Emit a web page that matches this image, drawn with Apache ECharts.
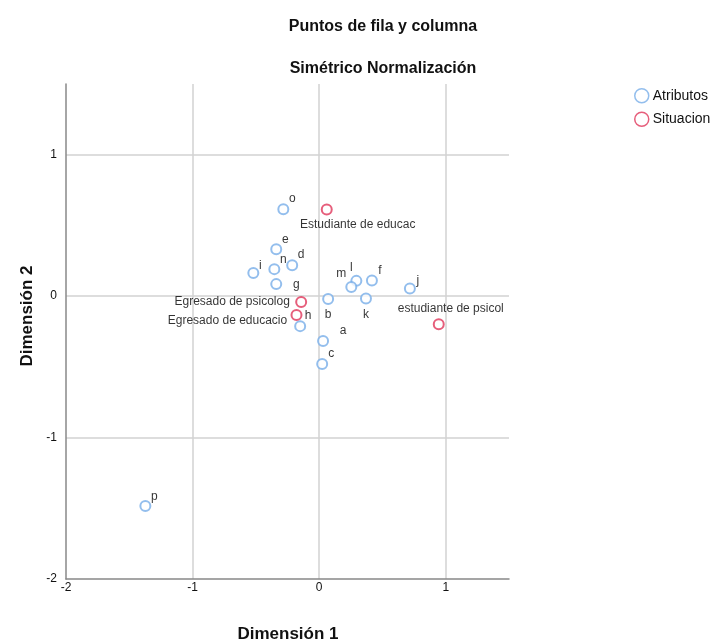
<!DOCTYPE html>
<html>
<head>
<meta charset="utf-8">
<script src="https://cdn.jsdelivr.net/npm/echarts@6/dist/echarts.min.js"></script>
<style>html,body{margin:0;padding:0;background:#fff}#c{width:717px;height:642px}</style>
</head>
<body>
<div id="c"></div>
<script>
// ---- data ----
const attrNames = ['a','b','c','d','e','f','g','h','i','j','k','l','m','n','o','p'];
const attrX = [0.031, 0.071, 0.024, -0.213, -0.339, 0.417, -0.339, -0.150, -0.520, 0.717, 0.370, 0.294, 0.254, -0.354, -0.283, -1.373];
const attrY = [-0.318, -0.021, -0.480, 0.219, 0.332, 0.111, 0.085, -0.212, 0.163, 0.054, -0.016, 0.108, 0.064, 0.191, 0.615, -1.484];

const sitNames = ['Estudiante de educac', 'Egresado de psicolog', 'Egresado de educacio', 'estudiante de psicol'];
const sitX = [0.060, -0.142, -0.179, 0.945];
const sitY = [0.613, -0.042, -0.134, -0.198];

const xTicks = [-2, -1, 0, 1];
const yTicks = [-2, -1, 0, 1];

// ---- styles (label offsets in px, relative to the marker centre) ----
const attrLabelOffset = {
  a:[20,-10], b:[0,16], c:[9,-10], d:[9,-10], e:[9,-10], f:[8,-10], g:[20,1], h:[8,-10],
  i:[7,-7], j:[8,-8], k:[0,16], l:[-5,-13], m:[-10,-13], n:[9,-9], o:[9,-10], p:[9,-9]
};
const sitLabelOffset = {
  'Estudiante de educac':[31,15], 'Egresado de psicolog':[-69,0],
  'Egresado de educacio':[-69,6], 'estudiante de psicol':[12,-15]
};
const BLUE = '#78aee8', RED = '#e0365a';
const FONT = '"Liberation Sans", Arial, sans-serif';

function build(names, xs, ys, offsets){
  return names.map((n,i)=>({
    name:n, value:[xs[i], ys[i]],
    label:{offset: offsets[n]}
  }));
}

const labelStyle = {show:true, position:'inside', formatter:'{b}', fontFamily:FONT, fontSize:12,
  color:'#000', textBorderWidth:0, textBorderColor:'transparent'};

const chart = echarts.init(document.getElementById('c'));
chart.setOption({
  animation:false,
  backgroundColor:'#fff',
  title:[
    {text:'Puntos de fila y columna', left:378, top:14, textAlign:'center',
     textStyle:{fontFamily:FONT, fontSize:16, fontWeight:'bold', color:'#111'}},
    {text:'Simétrico Normalización', left:378, top:56, textAlign:'center',
     textStyle:{fontFamily:FONT, fontSize:16, fontWeight:'bold', color:'#111'}}
  ],
  legend:{
    orient:'vertical', left:634, top:88, padding:0, itemWidth:14, itemHeight:14, itemGap:8,
    textStyle:{fontFamily:FONT, fontSize:14, color:'#111', padding:[0,0,0,-1]},
    data:[
      {name:'Atributos', icon:'circle', itemStyle:{color:'#fff', borderColor:BLUE, borderWidth:1.5}},
      {name:'Situacion', icon:'circle', itemStyle:{color:'#fff', borderColor:RED, borderWidth:1.5}}
    ]
  },
  grid:{left:66, right:208, top:84, bottom:63},
  xAxis:{
    type:'value', min:-2, max:1.5, interval:1,
    axisLine:{show:true, onZero:false, lineStyle:{color:'#888', width:1.5}},
    axisTick:{show:false},
    axisLabel:{showMaxLabel:false, margin:3, fontFamily:FONT, fontSize:12, color:'#111',
      formatter:v=> xTicks.includes(v) ? String(v) : ''},
    splitLine:{show:true, showMinLine:false, showMaxLine:false, lineStyle:{color:'#d2d2d2', width:1.5}}
  },
  yAxis:{
    type:'value', min:-2, max:1.5, interval:1,
    axisLine:{show:true, onZero:false, lineStyle:{color:'#888', width:1.5}},
    axisTick:{show:false},
    axisLabel:{showMaxLabel:false, margin:9, fontFamily:FONT, fontSize:12, color:'#111',
      formatter:v=> yTicks.includes(v) ? String(v) : ''},
    splitLine:{show:true, showMinLine:false, showMaxLine:false, lineStyle:{color:'#d2d2d2', width:1.5}}
  },
  graphic:[
    {type:'text', x:288, y:634, style:{text:'Dimensión 1', textAlign:'center', textVerticalAlign:'middle',
      font:'bold 17px '+FONT, fill:'#111'}},
    {type:'text', x:27, y:316, rotation:Math.PI/2, style:{text:'Dimensión 2', textAlign:'center', textVerticalAlign:'middle',
      font:'bold 17px '+FONT, fill:'#111'}}
  ],
  series:[
    {name:'Atributos', type:'scatter', symbol:'emptyCircle', symbolSize:10,
     itemStyle:{color:BLUE, borderWidth:1.5},
     label:labelStyle,
     data:build(attrNames, attrX, attrY, attrLabelOffset)},
    {name:'Situacion', type:'scatter', symbol:'emptyCircle', symbolSize:10,
     itemStyle:{color:RED, borderWidth:1.5},
     label:labelStyle,
     data:build(sitNames, sitX, sitY, sitLabelOffset)}
  ]
});
</script>
</body>
</html>
